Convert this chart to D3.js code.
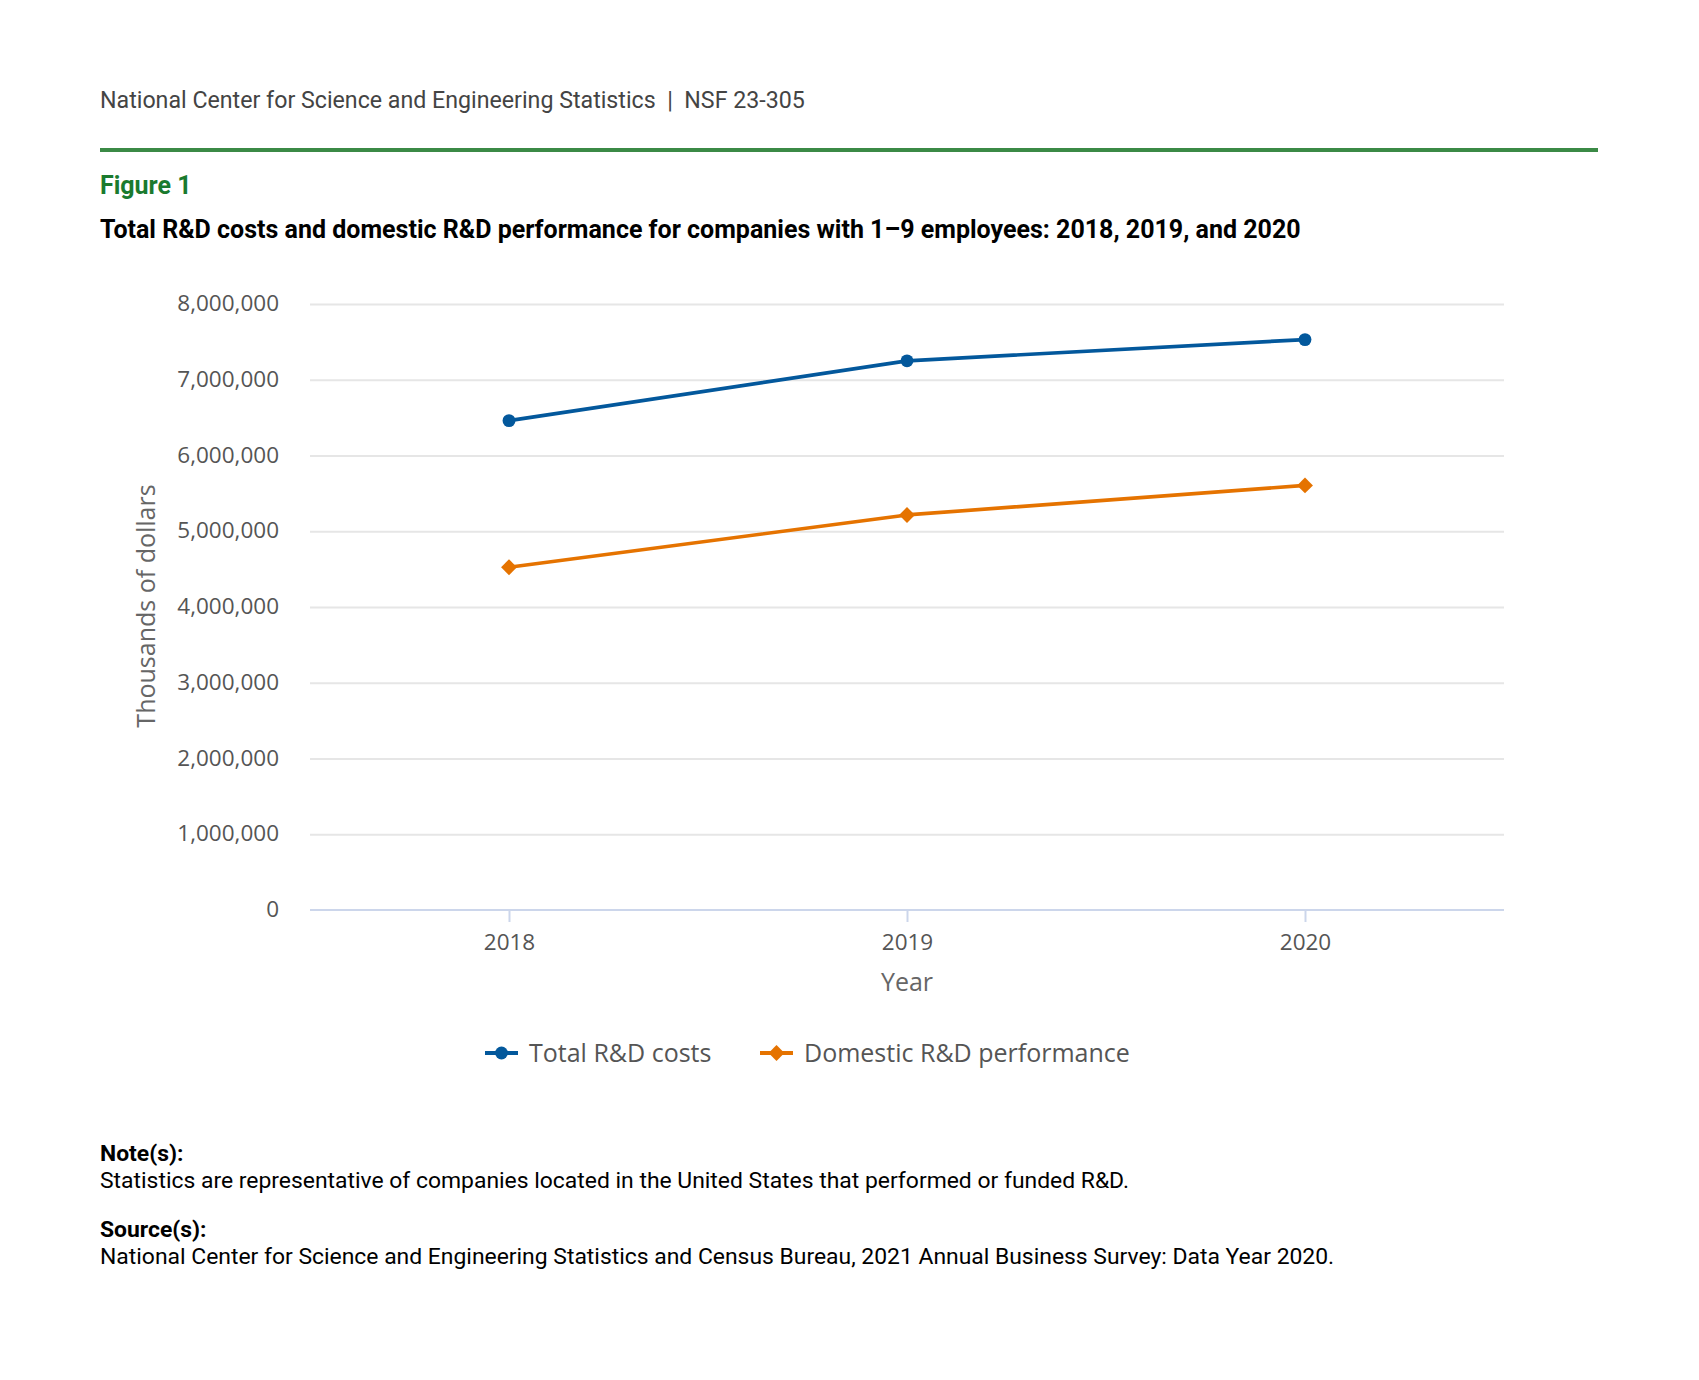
<!DOCTYPE html>
<html>
<head>
<meta charset="utf-8">
<script src="https://cdn.jsdelivr.net/npm/d3@7"></script>
<style>
  body { margin: 0; background: #fff; }
  svg { display: block; }
  .gridline line { stroke: #e6e6e6; stroke-width: 2; }
  .gridline path { display: none; }
</style>
</head>
<body>
<script>
// chart data
let years = [2018, 2019, 2020];
let totalCosts = [6460000, 7250000, 7530000];
let domesticPerf = [4525000, 5215000, 5605000];
let yTicks = [0, 1000000, 2000000, 3000000, 4000000, 5000000, 6000000, 7000000, 8000000];
let seriesNames = ["Total R&D costs", "Domestic R&D performance"];
let seriesColors = ["#03589c", "#e57300"];

let W = 1699, H = 1380;
let plot = {left: 310, right: 1504, top: 304, bottom: 910};

let svg = d3.select("body").append("svg")
  .attr("width", W)
  .attr("height", H);

// header block
svg.append("text")
  .attr("x", 100).attr("y", 108)
  .attr("xml:space", "preserve")
  .style("font-family", "Roboto").style("font-size", "23.2px")
  .style("fill", "#444")
  .text("National Center for Science and Engineering Statistics  |  NSF 23-305");

svg.append("line")
  .attr("x1", 100).attr("x2", 1598)
  .attr("y1", 150).attr("y2", 150)
  .style("stroke", "#3b8a46").style("stroke-width", 4);

svg.append("text")
  .attr("x", 100).attr("y", 194)
  .style("font-family", "Roboto").style("font-size", "25px").style("font-weight", "bold")
  .style("fill", "#1a7a2e")
  .text("Figure 1");

svg.append("text")
  .attr("x", 100).attr("y", 238)
  .style("font-family", "Roboto").style("font-size", "25px").style("font-weight", "bold")
  .style("fill", "#000")
  .text("Total R&D costs and domestic R&D performance for companies with 1\u20139 employees: 2018, 2019, and 2020");

// scales
let x = d3.scaleLinear().domain([2017.5, 2020.5]).range([plot.left, plot.right]);
let y = d3.scaleLinear().domain([0, 8000000]).range([plot.bottom, plot.top]);

// grid lines
svg.append("g")
  .attr("class", "gridline")
  .attr("transform", "translate(" + plot.left + ",0)")
  .call(d3.axisLeft(y).tickValues(yTicks.slice(1)).tickSize(-(plot.right - plot.left)).tickFormat(""));

// y labels
svg.append("g")
  .selectAll("text")
  .data(yTicks)
  .enter().append("text")
  .attr("x", 279)
  .attr("y", (d) => y(d) + 7)
  .attr("text-anchor", "end")
  .style("font-family", "'Open Sans'").style("font-size", "22.5px")
  .style("fill", "#555")
  .text((d) => d3.format(",")(d));

// x axis
let xAxis = svg.append("g")
  .attr("transform", "translate(0," + plot.bottom + ")")
  .call(d3.axisBottom(x).tickValues(years).tickSize(12).tickPadding(12).tickFormat(d3.format("d")));
xAxis.select(".domain")
  .attr("d", "M" + plot.left + ",0H" + plot.right)
  .style("stroke", "#ccd6eb").style("stroke-width", 2);
xAxis.selectAll(".tick line").style("stroke", "#ccd6eb").style("stroke-width", 2);
xAxis.selectAll(".tick text")
  .style("font-family", "'Open Sans'").style("font-size", "22.5px")
  .style("fill", "#555");

// axis titles
svg.append("text")
  .attr("transform", "translate(155,606) rotate(-90)")
  .attr("text-anchor", "middle")
  .style("font-family", "'Open Sans'").style("font-size", "25px")
  .style("fill", "#666")
  .text("Thousands of dollars");

svg.append("text")
  .attr("x", x(2019)).attr("y", 991)
  .attr("text-anchor", "middle")
  .style("font-family", "'Open Sans'").style("font-size", "25px")
  .style("fill", "#666")
  .text("Year");

// lines
let series = [totalCosts, domesticPerf];
let line = d3.line()
  .x((d, i) => x(years[i]))
  .y((d) => y(d));

let circle = d3.symbol().type(d3.symbolCircle).size(130);
let diamond = d3.symbol().type(d3.symbolDiamond2).size(160);
let symbols = [circle, diamond];

series.forEach(function(s, k) {
  svg.append("path")
    .datum(s)
    .attr("d", line)
    .style("fill", "none")
    .style("stroke", seriesColors[k])
    .style("stroke-width", 3.7)
    .style("stroke-linejoin", "round");

  svg.selectAll(".pt" + k)
    .data(s)
    .enter().append("path")
    .attr("class", "pt" + k)
    .attr("transform", (d, i) => "translate(" + x(years[i]) + "," + y(d) + ")")
    .attr("d", symbols[k])
    .style("fill", seriesColors[k]);
});

// legend
let legendX = [485, 760];
seriesNames.forEach(function(name, k) {
  let g = svg.append("g").attr("transform", "translate(" + legendX[k] + ",1053)");
  g.append("line")
    .attr("x1", 0).attr("x2", 33)
    .style("stroke", seriesColors[k]).style("stroke-width", 4);
  g.append("path")
    .attr("transform", "translate(16.5,0)")
    .attr("d", symbols[k])
    .style("fill", seriesColors[k]);
  g.append("text")
    .attr("x", 44).attr("y", 9)
    .style("font-family", "'Open Sans'").style("font-size", "25px")
    .style("fill", "#555")
    .text(name);
});

// notes
let notes = [
  ["Note(s):", 1161, "bold"],
  ["Statistics are representative of companies located in the United States that performed or funded R&D.", 1188, "normal"],
  ["Source(s):", 1237, "bold"],
  ["National Center for Science and Engineering Statistics and Census Bureau, 2021 Annual Business Survey: Data Year 2020.", 1264, "normal"]
];
notes.forEach(function(n) {
  svg.append("text")
    .attr("x", 100).attr("y", n[1])
    .style("font-family", "Roboto").style("font-size", "22.9px")
    .style("font-weight", n[2])
    .style("fill", "#000")
    .text(n[0]);
});
</script>
</body>
</html>
